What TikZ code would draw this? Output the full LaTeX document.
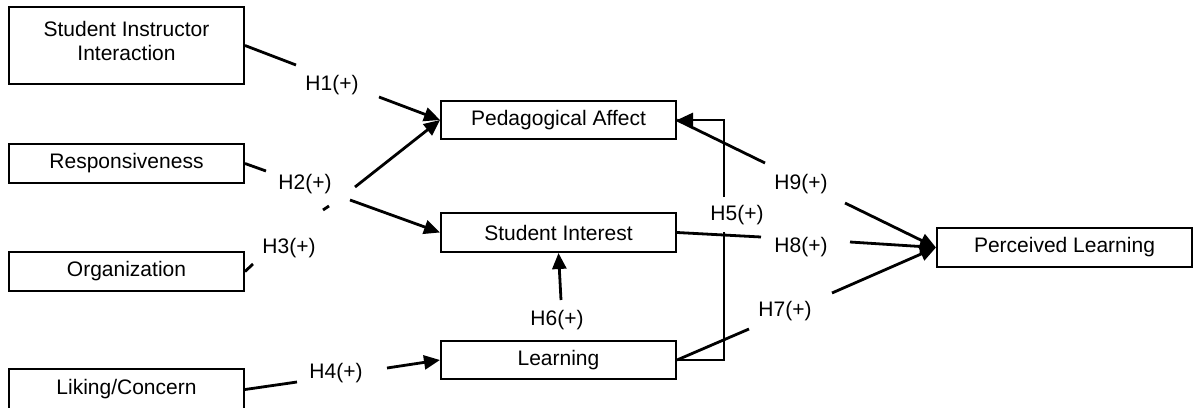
\documentclass[tikz,border=0pt]{standalone}
\usepackage{fontspec}
\setmainfont{Liberation Sans}
\usetikzlibrary{arrows.meta}
\tikzset{
  box/.style={draw, line width=2pt, rectangle, inner sep=0pt, align=center,
    font=\fontsize{21}{24}\selectfont},
  hyp/.style={inner sep=0pt, font=\fontsize{21}{24}\selectfont},
  conn/.style={line width=2.8pt},
  arr/.style={conn, -{Triangle[length=16pt,width=14pt]}}
}
\begin{document}
\begin{tikzpicture}[x=1pt,y=-1pt]
\useasboundingbox[fill=white] (0,0) rectangle (1194,407);
% boxes
\node[box, minimum width=235pt, minimum height=77pt] (sii) at (126.5,45.5) {Student Instructor\\Interaction\\[-15pt]\mbox{}};
\node[box, minimum width=235pt, minimum height=39pt] (resp) at (126.5,163.5) {Responsiveness};
\node[box, minimum width=235pt, minimum height=39pt] (org) at (126.5,271.5) {Organization};
\node[box, minimum width=235pt, minimum height=41pt] (lc) at (126.5,389.5) {Liking/Concern};
\node[box, minimum width=235pt, minimum height=38pt] (pa) at (558.5,120) {Pedagogical Affect};
\node[box, minimum width=235pt, minimum height=39pt] (si) at (558.5,232.5) {Student Interest};
\node[box, minimum width=235pt, minimum height=38pt] (lrn) at (558.5,360) {Learning};
\node[box, minimum width=255pt, minimum height=39pt] (pl) at (1064.5,247.5) {Perceived Learning};
% hypothesis labels
\node[hyp] (l1) at (332,85) {H1(+)};
\node[hyp] (l2) at (305,184) {H2(+)};
\node[hyp] (l3) at (289,248) {H3(+)};
\node[hyp] (l4) at (336,373) {H4(+)};
\node[hyp] (l5) at (737,215) {H5(+)};
\node[hyp] (l6) at (557,320) {H6(+)};
\node[hyp] (l7) at (785,311) {H7(+)};
\node[hyp] (l8) at (801,247) {H8(+)};
\node[hyp] (l9) at (801,184) {H9(+)};
% break points
\coordinate (h1a) at (296,65);  \coordinate (h1b) at (379,97);
\coordinate (h2a) at (266,171); \coordinate (h2b) at (355,187); \coordinate (h2c) at (350,200);
\coordinate (t1) at (323,210);  \coordinate (t2) at (329,206);
\coordinate (h3a) at (253,264);
\coordinate (h4a) at (297,382); \coordinate (h4b) at (387,368);
\coordinate (h5lo) at (724,232); \coordinate (h5hi) at (724,197);
\coordinate (h6a) at (561,300);
\coordinate (h7a) at (749,329); \coordinate (h7b) at (832,293);
\coordinate (h8a) at (761,237); \coordinate (h8b) at (850,242);
\coordinate (h9a) at (765,163); \coordinate (h9b) at (845,203);
% connectors
\draw[conn] (sii.east) -- (h1a);
\draw[arr] (h1b) -- (pa.west);
\draw[conn] (resp.east) -- (h2a);
\draw[arr] (h2b) -- (pa.west);
\draw[arr] (h2c) -- (si.west);
\draw[conn] (t1) -- (t2);
\draw[conn] (org.east) -- (h3a);
\draw[conn] (lc.east) -- (h4a);
\draw[arr] (h4b) -- (lrn.west);
\draw[arr] (h6a) -- (si.south);
\draw[conn] (lrn.east) -| (h5lo);
\draw[arr] (h5hi) |- (pa.east);
\draw[conn] (lrn.east) -- (h7a);
\draw[arr] (h7b) -- (pl.west);
\draw[conn] (si.east) -- (h8a);
\draw[arr] (h8b) -- (pl.west);
\draw[conn] (pa.east) -- (h9a);
\draw[arr] (h9b) -- (pl.west);
\end{tikzpicture}
\end{document}
